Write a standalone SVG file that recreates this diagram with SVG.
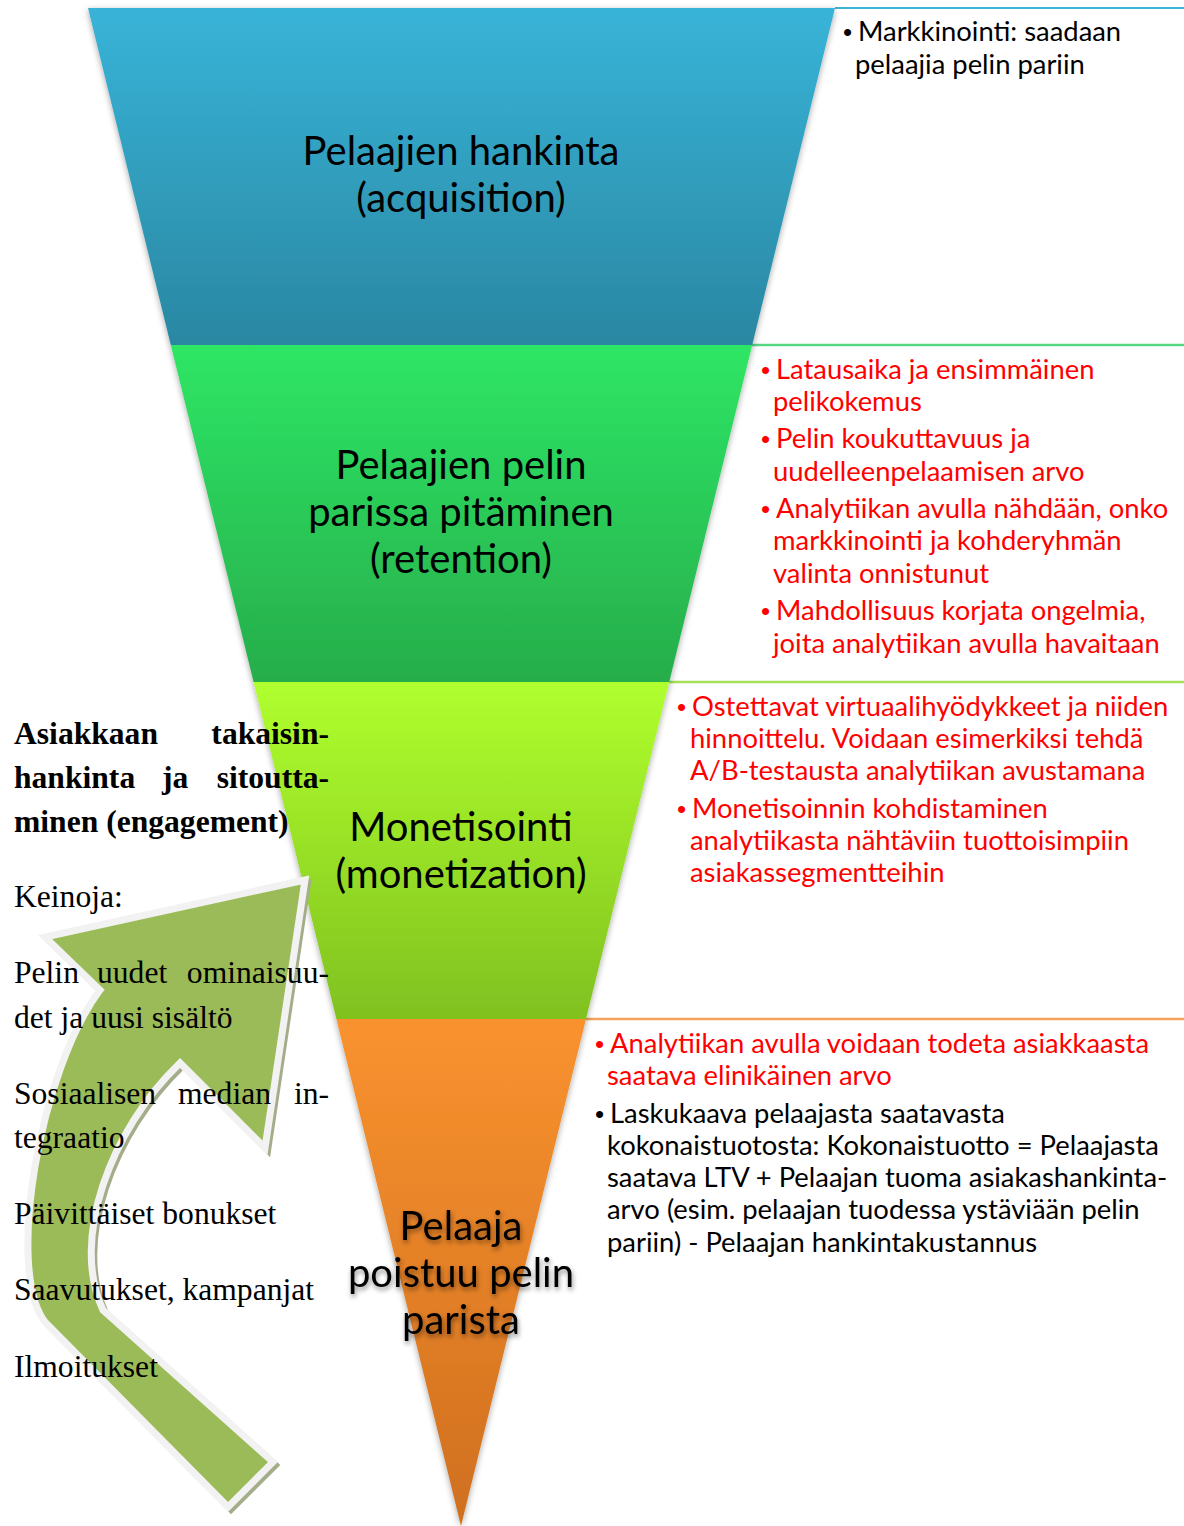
<svg xmlns="http://www.w3.org/2000/svg" width="1184" height="1526" viewBox="0 0 1184 1526">
<style>
.lab{font-family:Lato,"Open Sans",sans-serif;font-size:40px;fill:#000;text-anchor:middle}
.rt{font-family:Lato,"Open Sans",sans-serif;font-size:27.4px}
.rt .b{font-family:"Liberation Sans",Arial,sans-serif;font-size:26px}
.blk{fill:#000}
.red{fill:#ff0000}
.tb{font-family:"Liberation Serif",serif;font-size:31.6px;font-weight:bold;fill:#000}
.tr{font-family:"Liberation Serif",serif;font-size:31.6px;fill:#000}
.end{text-anchor:end}
</style>
<defs>
<linearGradient id="gBlue" x1="0" y1="0" x2="0" y2="1"><stop offset="0" stop-color="#38b4d8"/><stop offset="1" stop-color="#2a87a2"/></linearGradient>
<linearGradient id="gGreen" x1="0" y1="0" x2="0" y2="1"><stop offset="0" stop-color="#2ee665"/><stop offset="1" stop-color="#27ad4b"/></linearGradient>
<linearGradient id="gLime" x1="0" y1="0" x2="0" y2="1"><stop offset="0" stop-color="#b0ff2e"/><stop offset="1" stop-color="#80c11f"/></linearGradient>
<linearGradient id="gOrange" x1="0" y1="0" x2="0" y2="1"><stop offset="0" stop-color="#f9922f"/><stop offset="1" stop-color="#cf6f1f"/></linearGradient>
<filter id="sh" x="-10%" y="-5%" width="120%" height="110%"><feDropShadow dx="0" dy="2" stdDeviation="3" flood-color="#000" flood-opacity="0.35"/></filter>
<filter id="glow" x="-10%" y="-20%" width="120%" height="140%"><feDropShadow dx="1" dy="3" stdDeviation="2.5" flood-color="#000" flood-opacity="0.45"/></filter>
</defs>

<g id="separators">
<line x1="835" y1="8" x2="1184" y2="8" stroke="#3ab3d6" stroke-width="2"/>
<line x1="752" y1="345" x2="1184" y2="345" stroke="#56d882" stroke-width="2.5"/>
<line x1="669" y1="682" x2="1184" y2="682" stroke="#a6e05a" stroke-width="2.5"/>
<line x1="586" y1="1019" x2="1184" y2="1019" stroke="#f2a25a" stroke-width="2.5"/>
</g>

<g id="funnel" filter="url(#sh)">
<g id="band-acquisition">
<polygon points="88,8 835,8 752.2,345 170.8,345" fill="url(#gBlue)"/>
</g>
<g id="band-retention">
<polygon points="170.8,345 752.2,345 669.2,682 253.6,682" fill="url(#gGreen)"/>
</g>
<g id="band-monetization">
<polygon points="253.6,682 669.2,682 586,1019 336.4,1019" fill="url(#gLime)"/>
</g>
<g id="band-churn">
<polygon points="336.4,1019 586,1019 461,1526" fill="url(#gOrange)"/>
</g>
</g>

<g id="labels">
<text class="lab" x="461" y="165">Pelaajien hankinta</text>
<text class="lab" x="461" y="212">(acquisition)</text>
<text class="lab" x="461" y="479">Pelaajien pelin</text>
<text class="lab" x="461" y="526">parissa pitäminen</text>
<text class="lab" x="461" y="573">(retention)</text>
<text class="lab" x="461" y="841">Monetisointi</text>
<text class="lab" x="461" y="888">(monetization)</text>
<g filter="url(#glow)">
<text class="lab" x="461" y="1240">Pelaaja</text>
<text class="lab" x="461" y="1287">poistuu pelin</text>
<text class="lab" x="461" y="1334">parista</text>
</g>
</g>

<g id="arrow">
<path transform="translate(3,3)" d="M305,880 L265,1148 L180,1063 C110,1130 70,1240 103,1310 L273,1462 L228,1507 L45,1322 C5,1270 40,1070 100,990 L45,937 Z" fill="none" stroke="#a3ad8a" stroke-width="6" stroke-linejoin="miter"/>
<path d="M305,880 L265,1148 L180,1063 C110,1130 70,1240 103,1310 L273,1462 L228,1507 L45,1322 C5,1270 40,1070 100,990 L45,937 Z" fill="#9bbb59" stroke="#f2f2f2" stroke-width="7" stroke-linejoin="miter"/>
</g>

<g id="left-text">
<text class="tb" x="14" y="744">Asiakkaan</text>
<text class="tb end" x="329" y="744">takaisin-</text>
<text class="tb" x="14" y="788">hankinta</text>
<text class="tb" x="162" y="788">ja</text>
<text class="tb end" x="329" y="788">sitoutta-</text>
<text class="tb" x="14" y="832">minen (engagement)</text>
<text class="tr" x="14" y="907">Keinoja:</text>
<text class="tr" x="14" y="983">Pelin</text>
<text class="tr" x="97" y="983">uudet</text>
<text class="tr end" x="329" y="983">ominaisuu-</text>
<text class="tr" x="14" y="1028">det ja uusi sisältö</text>
<text class="tr" x="14" y="1104">Sosiaalisen</text>
<text class="tr" x="178" y="1104">median</text>
<text class="tr end" x="329" y="1104">in-</text>
<text class="tr" x="14" y="1148">tegraatio</text>
<text class="tr" x="14" y="1224">Päivittäiset bonukset</text>
<text class="tr" x="14" y="1300">Saavutukset, kampanjat</text>
<text class="tr" x="14" y="1377">Ilmoitukset</text>
</g>

<g id="notes-acquisition" class="rt blk">
<text class="b" x="843" y="41">•</text><text x="858" y="41">Markkinointi: saadaan</text>
<text x="855" y="74">pelaajia pelin pariin</text>
</g>

<g id="notes-retention" class="rt red">
<text class="b" x="761" y="379">•</text><text x="776" y="379">Latausaika ja ensimmäinen</text>
<text x="773" y="411">pelikokemus</text>
<text class="b" x="761" y="448">•</text><text x="776" y="448">Pelin koukuttavuus ja</text>
<text x="773" y="481">uudelleenpelaamisen arvo</text>
<text class="b" x="761" y="518">•</text><text x="776" y="518">Analytiikan avulla nähdään, onko</text>
<text x="773" y="550">markkinointi ja kohderyhmän</text>
<text x="773" y="583">valinta onnistunut</text>
<text class="b" x="761" y="620">•</text><text x="776" y="620">Mahdollisuus korjata ongelmia,</text>
<text x="773" y="653">joita analytiikan avulla havaitaan</text>
</g>

<g id="notes-monetization" class="rt red">
<text class="b" x="677" y="716">•</text><text x="692" y="716">Ostettavat virtuaalihyödykkeet ja niiden</text>
<text x="690" y="748">hinnoittelu. Voidaan esimerkiksi tehdä</text>
<text x="690" y="780">A/B-testausta analytiikan avustamana</text>
<text class="b" x="677" y="818">•</text><text x="692" y="818">Monetisoinnin kohdistaminen</text>
<text x="690" y="850">analytiikasta nähtäviin tuottoisimpiin</text>
<text x="690" y="882">asiakassegmentteihin</text>
</g>

<g id="notes-churn" class="rt">
<text class="red b" x="595" y="1053">•</text><text class="red" x="610" y="1053">Analytiikan avulla voidaan todeta asiakkaasta</text>
<text class="red" x="607" y="1085">saatava elinikäinen arvo</text>
<text class="blk b" x="595" y="1123">•</text><text class="blk" x="610" y="1123">Laskukaava pelaajasta saatavasta</text>
<text class="blk" x="607" y="1155">kokonaistuotosta: Kokonaistuotto = Pelaajasta</text>
<text class="blk" x="607" y="1187">saatava LTV + Pelaajan tuoma asiakashankinta-</text>
<text class="blk" x="607" y="1219">arvo (esim. pelaajan tuodessa ystäviään pelin</text>
<text class="blk" x="607" y="1252">pariin) - Pelaajan hankintakustannus</text>
</g>
</svg>
